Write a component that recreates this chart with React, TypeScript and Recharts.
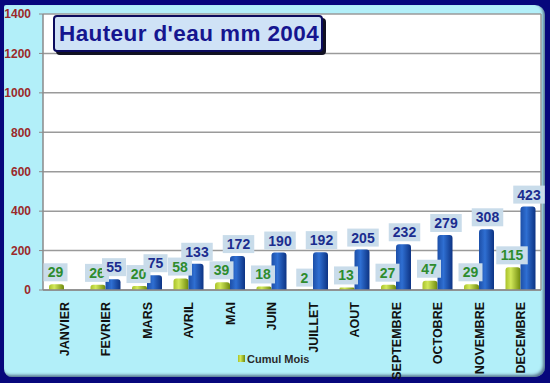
import { BarChart, Bar, XAxis, YAxis, CartesianGrid, Legend, LabelList } from "recharts";

const months = ["JANVIER", "FEVRIER", "MARS", "AVRIL", "MAI", "JUIN", "JUILLET", "AOUT", "SEPTEMBRE", "OCTOBRE", "NOVEMBRE", "DECEMBRE"];
const rainMonth = [29, 26, 20, 58, 39, 18, 2, 13, 27, 47, 29, 115];
const rainCumul = [null, 55, 75, 133, 172, 190, 192, 205, 232, 279, 308, 423];
const yTicks = [0, 200, 400, 600, 800, 1000, 1200, 1400];

const data = months.map((m, i) => ({ month: m, mois: rainMonth[i], cumul: rainCumul[i] }));

const FONT = "'Liberation Sans', Arial, sans-serif";

const MonthTick = (props: any) => {
  const { x, y, payload } = props;
  const tx = x + 5;
  const ty = y + 10;
  return (
    <text
      x={tx}
      y={ty}
      transform={`rotate(-90, ${tx}, ${ty})`}
      textAnchor="end"
      fontFamily={FONT}
      fontWeight="bold"
      fontSize={12.5}
      fill="#111"
    >
      {payload.value}
    </text>
  );
};

const makeLabel = (color: string, dx: number) => (props: any) => {
  const { x, y, width, value } = props;
  if (value == null) return null;
  const s = String(value);
  const w = s.length * 7.5 + 9;
  const h = 18;
  const cx = x + width / 2 + dx;
  const bottom = y - 3;
  return (
    <g>
      <rect x={cx - w / 2} y={bottom - h} width={w} height={h} fill="#c9dcea" />
      <text
        x={cx}
        y={bottom - 4}
        textAnchor="middle"
        fontFamily={FONT}
        fontWeight="bold"
        fontSize={14}
        fill={color}
      >
        {s}
      </text>
    </g>
  );
};

export default function App() {
  return (
    <div style={{ position: "absolute", left: 0, top: 0, width: 550, height: 383, background: "#07077c", overflow: "hidden" }}>
      <div
        style={{
          position: "absolute",
          left: 4,
          top: 5,
          width: 541,
          height: 372,
          background: "#b2eff9",
          borderRadius: "2px 10px 10px 8px",
          boxShadow: "inset -2px -2px 3px rgba(0,0,40,0.5)",
        }}
      />
      <div style={{ position: "absolute", left: 0, top: 0 }}>
        <BarChart
          width={550}
          height={383}
          data={data}
          margin={{ top: 14, right: 9, bottom: 0, left: 0 }}
          barGap={0}
          barSize={15}
        >
          <defs>
            <linearGradient id="gGreen" x1="0" y1="0" x2="1" y2="0">
              <stop offset="0%" stopColor="#a9c22a" />
              <stop offset="35%" stopColor="#d2e85a" />
              <stop offset="100%" stopColor="#6f8a0c" />
            </linearGradient>
            <linearGradient id="gBlue" x1="0" y1="0" x2="1" y2="0">
              <stop offset="0%" stopColor="#1d4fa8" />
              <stop offset="40%" stopColor="#2f6fd2" />
              <stop offset="100%" stopColor="#0d3383" />
            </linearGradient>
          </defs>
          <CartesianGrid
            fill="#ffffff"
            stroke="#9a9a9a"
            strokeWidth={1.5}
            verticalCoordinatesGenerator={({ offset }: any) => [offset.left + offset.width]}
          />
          <XAxis
            dataKey="month"
            height={93}
            interval={0}
            tick={<MonthTick />}
            tickLine={false}
            tickSize={0}
            axisLine={{ stroke: "#8a8a8a", strokeWidth: 1.5 }}
          />
          <YAxis
            width={43}
            domain={[0, 1400]}
            ticks={yTicks}
            interval={0}
            tickSize={4}
            tickMargin={8}
            tickLine={{ stroke: "#8a8a8a" }}
            axisLine={{ stroke: "#8a8a8a", strokeWidth: 1.5 }}
            tick={{ fill: "#9b2a2a", fontSize: 12, fontWeight: "bold", fontFamily: FONT }}
          />
          <Legend
            verticalAlign="middle"
            align="center"
            iconType="square"
            iconSize={7}
            wrapperStyle={{ left: 238, top: 349, width: "auto", fontFamily: FONT }}
            formatter={(v: string) => (
              <span style={{ color: "#2a2a2a", fontSize: 11, fontWeight: "bold", marginLeft: -2 }}>{v}</span>
            )}
          />
          <Bar dataKey="mois" name="Cumul Mois" fill="url(#gGreen)" radius={[3, 3, 0, 0]} isAnimationActive={false}>
            <LabelList dataKey="mois" content={makeLabel("#2e8c2e", -1)} />
          </Bar>
          <Bar dataKey="cumul" name="Cumul" legendType="none" fill="url(#gBlue)" radius={[3, 3, 0, 0]} isAnimationActive={false}>
            <LabelList dataKey="cumul" content={makeLabel("#1b2d8f", 1)} />
          </Bar>
        </BarChart>
      </div>
      <div
        style={{
          position: "absolute",
          left: 53,
          top: 15,
          width: 262,
          height: 33,
          background: "#cfe2f6",
          border: "2px solid #0b0b5e",
          borderRadius: 4,
          boxShadow: "3px 3px 0 #111122",
          fontFamily: FONT,
          fontWeight: "bold",
          fontSize: 22.5,
          color: "#15158f",
          lineHeight: "33px",
          paddingLeft: 4,
          letterSpacing: 0.4,
          whiteSpace: "nowrap",
        }}
      >
        Hauteur d'eau mm 2004
      </div>
    </div>
  );
}
